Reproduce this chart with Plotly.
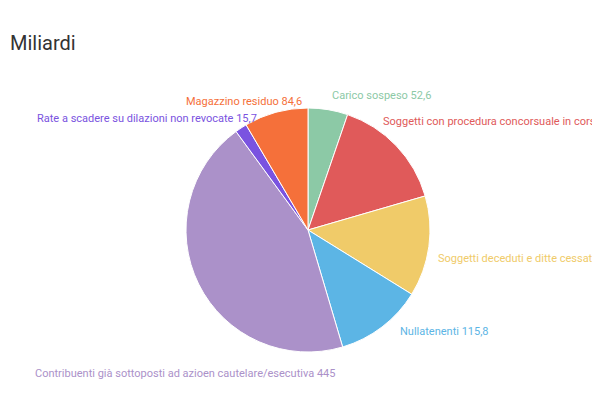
import plotly.graph_objects as go

labels = [
    "Carico sospeso",
    "Soggetti con procedura concorsuale in corso",
    "Soggetti deceduti e ditte cessate",
    "Nullatenenti",
    "Contribuenti già sottoposti ad azioen cautelare/esecutiva",
    "Rate a scadere su dilazioni non revocate",
    "Magazzino residuo",
]
values = [52.6, 152.2, 133.1, 115.8, 445, 15.7, 84.6]
colors = ["#8cc9a6", "#e05a5a", "#f0cb69", "#5cb5e5", "#ab91c9", "#7a53e0", "#f5703a"]

# label placement in pixels (x, y, anchor)
label_pos = [(322, 88, "left"), (373, 114, "left"), (428, 250, "left"),
             (390, 323, "left"), (25, 365, "left"), (27, 110, "left"), (296, 93, "right")]

W, H = 600, 400
fig = go.Figure(go.Pie(
    labels=labels, values=values, textinfo="none",
    sort=False, direction="clockwise", rotation=0,
    marker=dict(colors=colors, line=dict(color="white", width=1)),
    domain=dict(x=[178 / W, 422 / W], y=[1 - 344 / H, 1 - 100 / H]),
    showlegend=False, hoverinfo="label+value",
))
for l, v, c, (px, py, anc) in zip(labels, values, colors, label_pos):
    fig.add_annotation(
        text=f"{l} {str(v).replace('.', ',')}", x=px / W, y=1 - py / H,
        xref="paper", yref="paper", xanchor=anc, yanchor="middle",
        showarrow=False, font=dict(color=c, size=11, family="Roboto"),
    )
fig.add_annotation(text="Miliardi", x=0, y=1 - 35 / H, xref="paper", yref="paper",
                   xanchor="left", yanchor="middle", showarrow=False,
                   font=dict(size=20, family="Roboto", color="#333"))
fig.update_layout(
    width=W, height=H,
    margin=dict(l=0, r=0, t=0, b=0),
    paper_bgcolor="white",
    font=dict(family="Roboto"),
)
fig.write_html("out.html")
